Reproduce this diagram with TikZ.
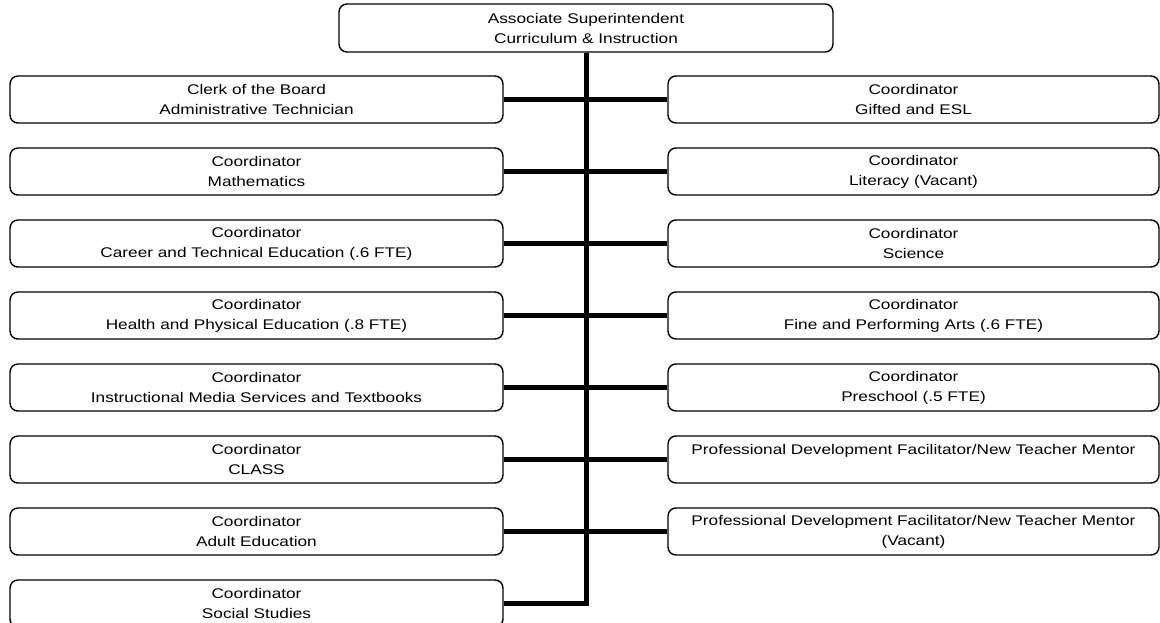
\documentclass[tikz,border=0pt]{standalone}
\usepackage{fontspec}
\setmainfont[FakeStretch=1.23]{Liberation Sans}
\begin{document}
\begin{tikzpicture}[x=1bp,y=-1bp,
  orgbox/.style={draw, line width=1.4bp, rounded corners=8bp, inner sep=0pt,
    minimum height=47bp, align=center,
    font=\fontsize{14bp}{20bp}\selectfont},
  leftbox/.style={orgbox, minimum width=493bp},
  rightbox/.style={orgbox, minimum width=491bp},
  conn/.style={line width=5bp}]
\useasboundingbox (0,0) rectangle (1160,623);

% head of the department
\node[orgbox, minimum width=494bp, minimum height=48bp] (head) at (586,28)
  {Associate Superintendent\\Curriculum \& Instruction};

% left column
\node[leftbox] (L1) at (256.5,99.5)  {Clerk of the Board\\Administrative Technician};
\node[leftbox] (L2) at (256.5,171.5) {Coordinator\\Mathematics};
\node[leftbox] (L3) at (256.5,243.5) {Coordinator\\Career and Technical Education (.6 FTE)};
\node[leftbox] (L4) at (256.5,315.5) {Coordinator\\Health and Physical Education (.8 FTE)};
\node[leftbox] (L5) at (256.5,387.5) {Coordinator\\Instructional Media Services and Textbooks};
\node[leftbox] (L6) at (256.5,459.5) {Coordinator\\CLASS};
\node[leftbox] (L7) at (256.5,531.5) {Coordinator\\Adult Education};
\node[leftbox] (L8) at (256.5,603.5) {Coordinator\\Social Studies};

% right column
\node[rightbox] (R1) at (913.5,99.5)  {Coordinator\\Gifted and ESL};
\node[rightbox] (R2) at (913.5,171.5) {Coordinator\\Literacy (Vacant)};
\node[rightbox] (R3) at (913.5,243.5) {Coordinator\\Science};
\node[rightbox] (R4) at (913.5,315.5) {Coordinator\\Fine and Performing Arts (.6 FTE)};
\node[rightbox] (R5) at (913.5,387.5) {Coordinator\\Preschool (.5 FTE)};
\node[rightbox] (R6) at (913.5,459.5) {Professional Development Facilitator/New Teacher Mentor\\\phantom{X}};
\node[rightbox] (R7) at (913.5,531.5) {Professional Development Facilitator/New Teacher Mentor\\(Vacant)};

% trunk and branches
\coordinate (trunkend) at (head.south |- L8.east);
\draw[conn] (head.south) -- (trunkend) -- (L8.east);
\foreach \k in {1,...,7} {
  \draw[conn] (L\k.east) -- (R\k.west);
}
\end{tikzpicture}
\end{document}
